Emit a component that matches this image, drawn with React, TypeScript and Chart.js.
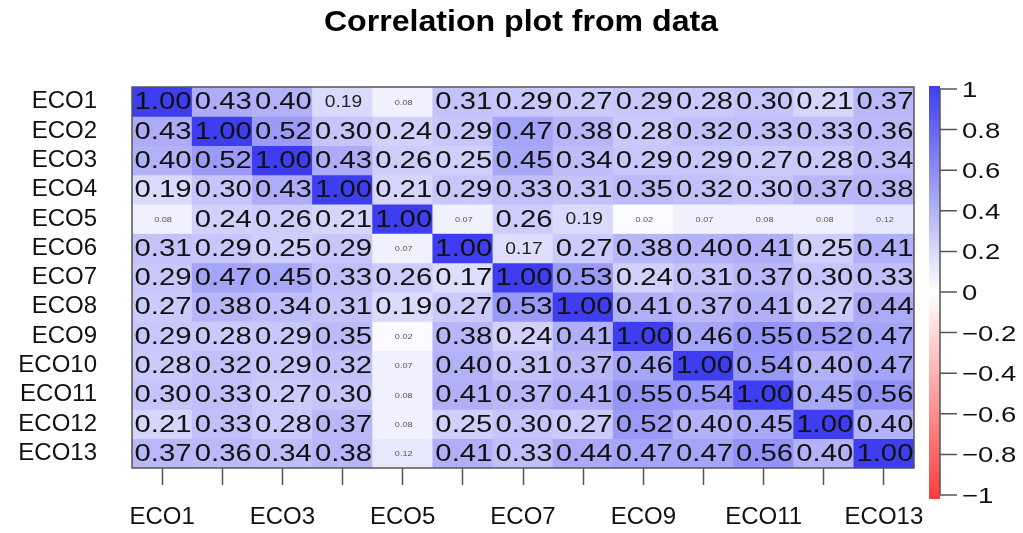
import React, { useEffect, useRef } from "react";
import { Chart, registerables } from "chart.js";

Chart.register(...registerables);

const TITLE = "Correlation plot from data";
const variables = ["ECO1", "ECO2", "ECO3", "ECO4", "ECO5", "ECO6", "ECO7", "ECO8", "ECO9", "ECO10", "ECO11", "ECO12", "ECO13"];

const rowECO1 = [1.0, 0.43, 0.4, 0.19, 0.08, 0.31, 0.29, 0.27, 0.29, 0.28, 0.3, 0.21, 0.37];
const rowECO2 = [0.43, 1.0, 0.52, 0.3, 0.24, 0.29, 0.47, 0.38, 0.28, 0.32, 0.33, 0.33, 0.36];
const rowECO3 = [0.4, 0.52, 1.0, 0.43, 0.26, 0.25, 0.45, 0.34, 0.29, 0.29, 0.27, 0.28, 0.34];
const rowECO4 = [0.19, 0.3, 0.43, 1.0, 0.21, 0.29, 0.33, 0.31, 0.35, 0.32, 0.3, 0.37, 0.38];
const rowECO5 = [0.08, 0.24, 0.26, 0.21, 1.0, 0.07, 0.26, 0.19, 0.02, 0.07, 0.08, 0.08, 0.12];
const rowECO6 = [0.31, 0.29, 0.25, 0.29, 0.07, 1.0, 0.17, 0.27, 0.38, 0.4, 0.41, 0.25, 0.41];
const rowECO7 = [0.29, 0.47, 0.45, 0.33, 0.26, 0.17, 1.0, 0.53, 0.24, 0.31, 0.37, 0.3, 0.33];
const rowECO8 = [0.27, 0.38, 0.34, 0.31, 0.19, 0.27, 0.53, 1.0, 0.41, 0.37, 0.41, 0.27, 0.44];
const rowECO9 = [0.29, 0.28, 0.29, 0.35, 0.02, 0.38, 0.24, 0.41, 1.0, 0.46, 0.55, 0.52, 0.47];
const rowECO10 = [0.28, 0.32, 0.29, 0.32, 0.07, 0.4, 0.31, 0.37, 0.46, 1.0, 0.54, 0.4, 0.47];
const rowECO11 = [0.3, 0.33, 0.27, 0.3, 0.08, 0.41, 0.37, 0.41, 0.55, 0.54, 1.0, 0.45, 0.56];
const rowECO12 = [0.21, 0.33, 0.28, 0.37, 0.08, 0.25, 0.3, 0.27, 0.52, 0.4, 0.45, 1.0, 0.4];
const rowECO13 = [0.37, 0.36, 0.34, 0.38, 0.12, 0.41, 0.33, 0.44, 0.47, 0.47, 0.56, 0.4, 1.0];

const corrMatrix = [rowECO1, rowECO2, rowECO3, rowECO4, rowECO5, rowECO6, rowECO7, rowECO8, rowECO9, rowECO10, rowECO11, rowECO12, rowECO13];

const colorBarTicks = [1, 0.8, 0.6, 0.4, 0.2, 0, -0.2, -0.4, -0.6, -0.8, -1];
const colorBarLabels = ["1", "0.8", "0.6", "0.4", "0.2", "0", "\u22120.2", "\u22120.4", "\u22120.6", "\u22120.8", "\u22121"];

const POS = [62, 62, 240];
const NEG = [250, 60, 60];

function corrColor(v: number): string {
  const t = Math.min(1, Math.abs(v));
  const c = v >= 0 ? POS : NEG;
  const r = Math.round(255 + (c[0] - 255) * t);
  const g = Math.round(255 + (c[1] - 255) * t);
  const b = Math.round(255 + (c[2] - 255) * t);
  return `rgb(${r},${g},${b})`;
}

const FONT = "'Liberation Sans', Arial, sans-serif";

function drawStretched(ctx: CanvasRenderingContext2D, text: string, x: number, y: number, font: string, sx: number, align: CanvasTextAlign, color: string) {
  ctx.save();
  ctx.translate(x, y);
  ctx.scale(sx, 1);
  ctx.font = font;
  ctx.textAlign = align;
  ctx.textBaseline = "middle";
  ctx.fillStyle = color;
  ctx.fillText(text, 0, 0);
  ctx.restore();
}

function numberStyle(v: number, i: number, j: number) {
  const a = Math.abs(v);
  if (a < 0.15) return { font: `7px ${FONT}`, sx: 1.3, color: "#555" };
  if (a < 0.2 && j > i) return { font: `16px ${FONT}`, sx: 1.2, color: "#222" };
  return { font: `24px ${FONT}`, sx: 1.22, color: "#111" };
}

const decorPlugin = {
  id: "corrDecor",
  afterDatasetsDraw(chart: any) {
    const { ctx, chartArea: a, scales } = chart;
    const x = scales.x;
    const y = scales.y;
    corrMatrix.forEach((row, i) => {
      row.forEach((v, j) => {
        const cx = x.getPixelForValue(j);
        const cy = y.getPixelForValue(i + 1);
        const st = numberStyle(v, i, j);
        drawStretched(ctx, v.toFixed(2), cx + 1, cy + 1, st.font, st.sx, "center", st.color);
      });
    });
    ctx.save();
    ctx.strokeStyle = "#555";
    ctx.lineWidth = 1.5;
    ctx.strokeRect(a.left, a.top, a.right - a.left, a.bottom - a.top);
    ctx.restore();
  },
  afterDraw(chart: any) {
    const { ctx } = chart;
    drawStretched(ctx, TITLE, 521, 23, `bold 30px ${FONT}`, 1.07, "center", "#000");
    const barL = 929, barR = 940, barT = 86, barB = 499;
    const yTop = 89, yBot = 495;
    const grad = ctx.createLinearGradient(0, barT, 0, barB);
    grad.addColorStop(0, corrColor(1));
    grad.addColorStop(0.5, "rgb(255,255,255)");
    grad.addColorStop(1, corrColor(-1));
    ctx.save();
    ctx.fillStyle = grad;
    ctx.fillRect(barL, barT, barR - barL, barB - barT);
    ctx.strokeStyle = "#555";
    ctx.lineWidth = 1.5;
    ctx.beginPath();
    ctx.moveTo(barR, yTop);
    ctx.lineTo(barR, yBot);
    colorBarTicks.forEach((t) => {
      const py = yTop + ((1 - t) / 2) * (yBot - yTop);
      ctx.moveTo(barR, py);
      ctx.lineTo(957, py);
    });
    ctx.stroke();
    ctx.restore();
    colorBarTicks.forEach((t, k) => {
      const py = yTop + ((1 - t) / 2) * (yBot - yTop);
      drawStretched(ctx, colorBarLabels[k], 962, py + 2, `22px ${FONT}`, 1.25, "left", "#111");
    });
  },
};

export default function App() {
  const ref = useRef<HTMLCanvasElement | null>(null);
  useEffect(() => {
    if (!ref.current) return;
    Chart.defaults.font.family = FONT;
    const chart = new Chart(ref.current, {
      type: "bar",
      data: {
        labels: variables,
        datasets: corrMatrix.map((row, i) => ({
          label: variables[i],
          data: row.map((_, j) => ({ x: variables[j], y: [i + 0.5, i + 1.5] })),
          backgroundColor: row.map((v) => corrColor(v)),
          borderWidth: 0,
          barPercentage: 1,
          categoryPercentage: 1,
          grouped: false,
        })) as any,
      },
      options: {
        animation: false,
        responsive: false,
        events: [],
        layout: { padding: { left: 0, right: 109, top: 87, bottom: 0 } },
        plugins: { legend: { display: false }, tooltip: { enabled: false }, title: { display: false } },
        scales: {
          x: {
            type: "category",
            offset: true,
            grid: { display: true, drawOnChartArea: false, drawTicks: true, tickLength: 17, offset: false, color: "#555", tickColor: "#555", tickWidth: 1.5 },
            border: { display: false },
            ticks: {
              autoSkip: false,
              maxRotation: 0,
              padding: 18,
              color: "#111",
              font: { size: 24 },
              callback: (_v: any, idx: number) => (idx % 2 === 0 ? variables[idx] : ""),
            },
            afterFit: (s: any) => {
              s.height = 65;
            },
          },
          y: {
            type: "linear",
            reverse: true,
            min: 0.5,
            max: 13.5,
            afterBuildTicks: (s: any) => {
              s.ticks = variables.map((_, k) => ({ value: k + 1 }));
            },
            grid: { display: false, drawTicks: false },
            border: { display: false },
            ticks: {
              autoSkip: false,
              padding: 35,
              color: "#111",
              font: { size: 24 },
              callback: (v: any) => variables[Math.round(Number(v)) - 1] ?? "",
            },
            afterFit: (s: any) => {
              s.width = 132;
            },
          },
        },
      } as any,
      plugins: [decorPlugin],
    });
    return () => chart.destroy();
  }, []);
  return (
    <div style={{ position: "absolute", left: 0, top: 0, width: 1023, height: 533, background: "#fff" }}>
      <canvas ref={ref} width={1023} height={533} style={{ display: "block" }} />
    </div>
  );
}
